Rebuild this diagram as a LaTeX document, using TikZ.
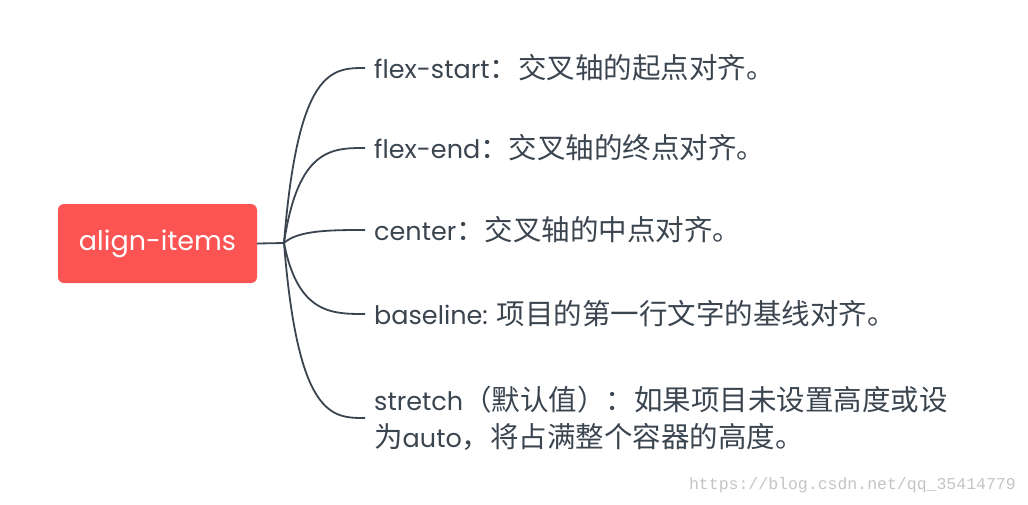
\documentclass[tikz,border=0pt]{standalone}
\usepackage{fontspec}
\setmainfont{Poppins}
\newfontfamily\cjkf{Noto Sans CJK SC}
\newcommand{\cjk}{\cjkf\fontsize{28.5}{37}\selectfont}
\newfontfamily\wmfont{Liberation Mono}
\definecolor{rootred}{HTML}{FC5353}
\definecolor{ink}{HTML}{3B4550}
\definecolor{wm}{HTML}{C4C4C4}
\tikzset{
  rootbox/.style={fill=rootred, rounded corners=6pt, minimum width=199pt, minimum height=79pt, inner sep=0pt, text=white, font=\fontsize{27}{32}\selectfont},
  leaf/.style={anchor=west, inner sep=0pt, text=ink, font=\fontsize{25.5}{37}\selectfont, align=left},
  branch/.style={draw=ink, line width=1.8pt},
}
\begin{document}
\begin{tikzpicture}[x=1pt,y=-1pt]
\useasboundingbox (0,0) rectangle (1028,504);
\node[rootbox] (root) at (157.5,243.5) {align-items};
\coordinate (hub) at (284,243);
\node[leaf] (l1) at (374,68) {flex-start{\cjk ：交叉轴的起点对齐。}};
\node[leaf] (l2) at (374,148) {flex-end{\cjk ：交叉轴的终点对齐。}};
\node[leaf] (l3) at (374,230) {center{\cjk ：交叉轴的中点对齐。}};
\node[leaf] (l4) at (374,314) {baseline: {\cjk 项目的第一行文字的基线对齐。}};
\node[leaf] (l5) at (374,418) {stretch{\cjk （默认值）：如果项目未设置高度或设}\\{\cjk 为}auto{\cjk ，将占满整个容器的高度。}};
\coordinate (e1) at (365,68);
\coordinate (e2) at (365,148);
\coordinate (e3) at (365,230);
\coordinate (e4) at (365,314);
\coordinate (e5) at (365,418);
\draw[branch] (root.east) -- (hub);
\draw[branch] (hub) .. controls (298,68) and (332,68) .. (e1);
\draw[branch] (hub) .. controls (298,148) and (332,148) .. (e2);
\draw[branch] (hub) .. controls (298,230) and (332,230) .. (e3);
\draw[branch] (hub) .. controls (298,314) and (332,314) .. (e4);
\draw[branch] (hub) .. controls (298,418) and (332,418) .. (e5);
\node[anchor=east, inner sep=0pt, text=wm, font=\wmfont\fontsize{16.5}{18}\selectfont] (wm) at (1016,485) {https://blog.csdn.net/qq\_35414779};
\end{tikzpicture}
\end{document}
